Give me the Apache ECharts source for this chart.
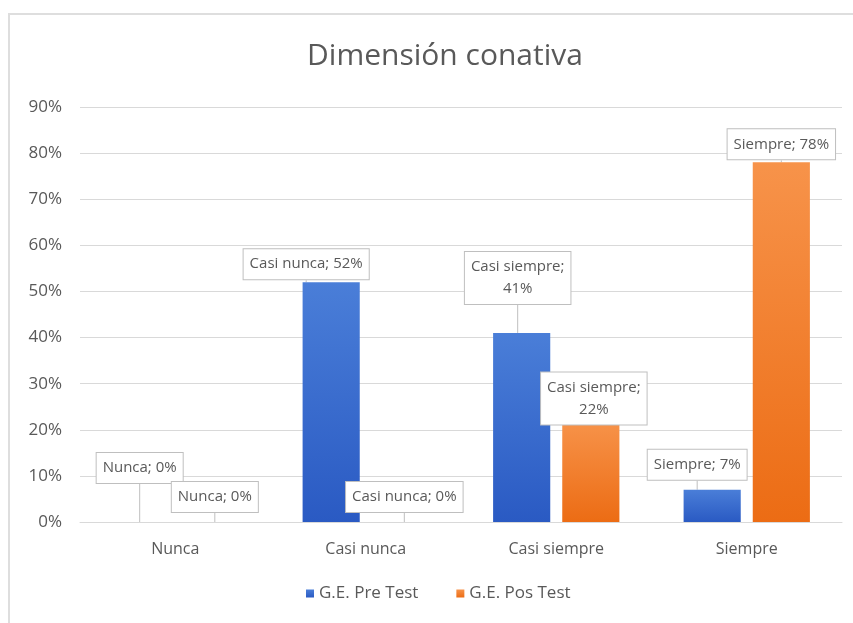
<!DOCTYPE html>
<html>
<head>
<meta charset="utf-8">
<title>Dimensión conativa</title>
<script src="https://cdn.jsdelivr.net/npm/echarts@6/dist/echarts.min.js"></script>
<style>
    html, body { margin: 0; padding: 0; background: #fff; overflow: hidden; }
    #frame { position: absolute; left: 8px; top: 13px; width: 900px; height: 700px;
             border-left: 2px solid #dedede; border-top: 2px solid #dedede; }
    #chart { position: absolute; left: 0; top: 0; width: 853px; height: 623px; }
</style>
</head>
<body>
<div id="frame"></div>
<div id="chart"></div>
<script>
var categories = ['Nunca', 'Casi nunca', 'Casi siempre', 'Siempre'];
var preTest = [0, 52, 41, 7];
var posTest = [0, 0, 22, 78];
var seriesNames = ['G.E. Pre Test', 'G.E. Pos Test'];

// where each callout sits, moved from the default spot above its bar
var preCallout = [[-1, -34], [-25, 2], [-4, -24], [-15, -5]];
var posCallout = [[5, -5], [4, -5], [3, 9], [0, 2]];

var textColor = '#595959';
var fontName = 'Open Sans';

function calloutText(p) {
    // Excel wrapped the long category onto two lines
    if (p.name === 'Casi siempre') {
        return p.name + ';\n' + p.value + '%';
    }
    return p.name + '; ' + p.value + '%';
}

function makeSeries(name, values, offsets, top, bottom) {
    return {
        name: name,
        type: 'bar',
        data: values,
        barWidth: '30%',
        barGap: '21%',
        itemStyle: {
            color: new echarts.graphic.LinearGradient(0, 0, 0, 1, [
                { offset: 0, color: top },
                { offset: 1, color: bottom }
            ])
        },
        label: {
            show: true,
            position: 'top',
            distance: 5,
            formatter: calloutText,
            color: textColor,
            fontFamily: fontName,
            fontSize: 15,
            lineHeight: 22,
            align: 'center',
            backgroundColor: '#fff',
            borderColor: '#bfbfbf',
            borderWidth: 1,
            padding: [4, 6]
        },
        labelLine: {
            show: true,
            lineStyle: { color: '#bfbfbf', width: 1 }
        },
        labelLayout: function (p) {
            var o = offsets[p.dataIndex];
            return { dx: o[0], dy: o[1] };
        }
    };
}

var myChart = echarts.init(document.getElementById('chart'));
var options = {
    animation: false,
    backgroundColor: 'transparent',
    title: {
        text: 'Dimensión conativa',
        left: 440,
        textAlign: 'center',
        top: 36,
        textStyle: {
            color: textColor,
            fontFamily: fontName,
            fontSize: 30,
            fontWeight: 'normal'
        }
    },
    legend: {
        data: seriesNames,
        left: 301,
        bottom: 16,
        icon: 'rect',
        itemWidth: 8,
        itemHeight: 8,
        itemGap: 38,
        textStyle: { color: textColor, fontFamily: fontName, fontSize: 17 }
    },
    grid: {
        left: 80,
        right: 11,
        top: 107,
        bottom: 101
    },
    xAxis: {
        type: 'category',
        data: categories,
        axisLine: { lineStyle: { color: '#d9d9d9' } },
        axisTick: { show: false },
        axisLabel: {
            color: textColor,
            fontFamily: fontName,
            fontSize: 16,
            margin: 19
        }
    },
    yAxis: {
        type: 'value',
        min: 0,
        max: 90,
        interval: 10,
        axisLine: { show: false },
        axisTick: { show: false },
        axisLabel: {
            formatter: '{value}%',
            color: textColor,
            fontFamily: fontName,
            fontSize: 17,
            margin: 18
        },
        splitLine: { lineStyle: { color: '#d9d9d9' } }
    },
    series: [
        makeSeries(seriesNames[0], preTest, preCallout, '#4a7ed8', '#2a5ac3'),
        makeSeries(seriesNames[1], posTest, posCallout, '#f7934a', '#ec6c14')
    ]
};
myChart.setOption(options);
</script>
</body>
</html>
